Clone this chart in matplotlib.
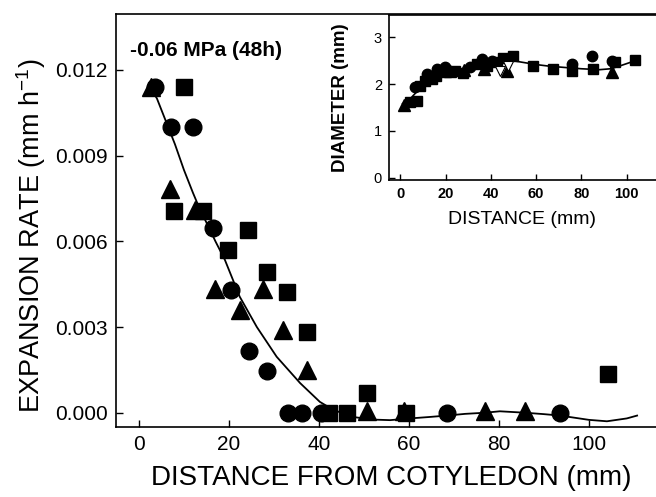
import matplotlib
matplotlib.use("Agg")
import matplotlib.pyplot as plt

plt.rcParams['font.family'] = ['Liberation Sans', 'DejaVu Sans']

# ---------------- main panel data ----------------
tri_x = [2.6, 6.9, 12.4, 16.9, 22.4, 27.6, 32.0, 37.3, 50.6, 59.0, 76.9, 85.8]
tri_y = [0.0114, 0.00785, 0.00711, 0.00434, 0.0036, 0.00434, 0.0029, 0.0015,
         0.00005, 0.00005, 0.00005, 0.00005]
circ_x = [3.6, 7.1, 12.0, 16.4, 20.4, 24.4, 28.5, 33.1, 36.2, 40.4, 68.4, 93.6]
circ_y = [0.0114, 0.0100, 0.0100, 0.00648, 0.0043, 0.00216, 0.00146,
          0.0, 0.0, 0.0, 0.0, 0.0]
sq_x = [10.1, 7.8, 14.3, 19.8, 24.3, 28.4, 32.9, 37.3, 42.2, 46.2, 50.6, 59.3, 104.2]
sq_y = [0.01139, 0.00707, 0.00707, 0.0057, 0.0064, 0.00494, 0.00422, 0.00283,
        0.0, 0.0, 0.0007, 0.0, 0.00136]

fit_x = [2.5, 4.0, 6.0, 8.0, 10.0, 12.0, 13.6, 15.5, 17.0, 19.1, 22.4, 26.2, 30.6,
         35.8, 40.2, 43.2, 47.6, 52.0, 55.8, 60.2, 64.5, 68.4, 72.5, 76.9, 80.2,
         85.8, 90.0, 93.6, 97.0, 100.0, 104.0, 108.4, 110.7]
fit_y = [0.0114, 0.0110, 0.0102, 0.0094, 0.0085, 0.0077, 0.0071, 0.0065, 0.0060,
         0.00535, 0.00406, 0.0030, 0.00196, 0.00104, 0.00038, 0.0001, -0.00015,
         -0.00024, -0.00026, -0.0002, -0.00015, -0.0001, -0.00004, 0.0, 0.00005,
         0.0, -0.00005, -0.0001, -0.00018, -0.00025, -0.0003, -0.0002, -0.0001]

main_xticks = [0, 20, 40, 60, 80, 100]
main_yticks = [0.000, 0.003, 0.006, 0.009, 0.012]
main_yticklabels = ["0.000", "0.003", "0.006", "0.009", "0.012"]

# ---------------- inset data ----------------
in_circ_x = [6.4, 11.6, 16.0, 19.7, 30.7, 35.9, 40.4, 75.8, 84.6, 93.5]
in_circ_y = [1.94, 2.21, 2.32, 2.36, 2.36, 2.53, 2.49, 2.43, 2.60, 2.49]
in_sq_x = [4.1, 7.2, 8.5, 10.8, 13.8, 15.6, 20.4, 24.0, 27.6, 33.7, 38.2, 42.6,
           45.3, 49.7, 58.6, 67.5, 75.8, 85.2, 94.9, 103.7]
in_sq_y = [1.62, 1.65, 1.96, 2.07, 2.11, 2.18, 2.25, 2.28, 2.24, 2.43, 2.39, 2.47,
           2.57, 2.60, 2.38, 2.32, 2.28, 2.32, 2.47, 2.51]
in_tri_x = [1.5, 12.5, 22.0, 28.0, 37.0, 47.0, 93.5]
in_tri_y = [1.56, 2.15, 2.28, 2.30, 2.33, 2.28, 2.26]
in_vtri_x = [44.0, 47.6]
in_vtri_y = [2.28, 2.38]
in_line_x = [1, 5, 10, 15, 20, 25, 30, 35, 40, 45, 50, 55, 60, 65, 72, 80, 88, 93, 97, 103.7]
in_line_y = [1.58, 1.72, 1.98, 2.15, 2.24, 2.28, 2.33, 2.40, 2.45, 2.50, 2.50, 2.46,
             2.42, 2.39, 2.36, 2.33, 2.31, 2.33, 2.39, 2.50]
in_xticks = [0, 20, 40, 60, 80, 100]
in_yticks = [0, 1, 2, 3]

W, H = 656, 497
fig = plt.figure(figsize=(W / 100, H / 100), dpi=100)

# main axes
ax = fig.add_axes([116 / W, 1 - 427 / H, 1 - 116 / W, (427 - 14) / H])
ax.plot(fit_x, fit_y, color='black', lw=1.3, zorder=2)
ax.plot(circ_x, circ_y, 'o', color='black', ms=12, zorder=3)
ax.plot(sq_x, sq_y, 's', color='black', ms=11.5, zorder=3)
ax.plot(tri_x, tri_y, '^', color='black', ms=13, zorder=3)
ax.set_xlim(-5.1, 114.9)
ax.set_ylim(-0.0005, 0.01396)
ax.set_xticks(main_xticks)
ax.set_yticks(main_yticks)
ax.set_yticklabels(main_yticklabels)
ax.tick_params(direction='in', length=5, width=1, labelsize=15, pad=6)
ax.spines['right'].set_visible(False)
for s in ['left', 'bottom', 'top']:
    ax.spines[s].set_linewidth(1.2)
fig.text(31 / W, 1 - 236 / H, 'EXPANSION RATE (mm h$^{\\mathregular{-1}}$)', fontsize=19.5,
         rotation=90, ha='center', va='center')
fig.text(391 / W, 1 - 478 / H, 'DISTANCE FROM COTYLEDON (mm)', fontsize=20,
         ha='center', va='center')
ax.text(130 / W, 1 - 50 / H, '-0.06 MPa (48h)', transform=fig.transFigure,
        fontsize=15, fontweight='bold', ha='left', va='center')

# inset axes
ins = fig.add_axes([389 / W, 1 - 180 / H, 1 - 389 / W, (180 - 15) / H])
ins.plot(in_line_x, in_line_y, color='black', lw=1.2, zorder=2)
ins.plot(in_sq_x, in_sq_y, 's', color='black', ms=7.5, zorder=3)
ins.plot(in_circ_x, in_circ_y, 'o', color='black', ms=7.5, zorder=3)
ins.plot(in_tri_x, in_tri_y, '^', color='black', ms=8, zorder=3)
ins.plot(in_vtri_x, in_vtri_y, 'v', color='white', mec='black', mew=0.8, ms=6.5, zorder=4)
ins.set_xlim(-5.0, 113.0)
ins.set_ylim(-0.05, 3.48)
ins.set_xticks(in_xticks)
ins.set_yticks(in_yticks)
ins.tick_params(direction='in', length=4, width=1, labelsize=10.5, pad=5)
for lab in ins.get_xticklabels():
    lab.set_fontweight('bold')
ins.spines['right'].set_visible(False)
for s in ['left', 'bottom', 'top']:
    ins.spines[s].set_linewidth(1.2)
ins.set_ylabel('DIAMETER (mm)', fontsize=13.5, fontweight='bold', labelpad=18)
ins.set_xlabel('DISTANCE (mm)', fontsize=14, labelpad=7)

fig.savefig('out.png', dpi=100)
